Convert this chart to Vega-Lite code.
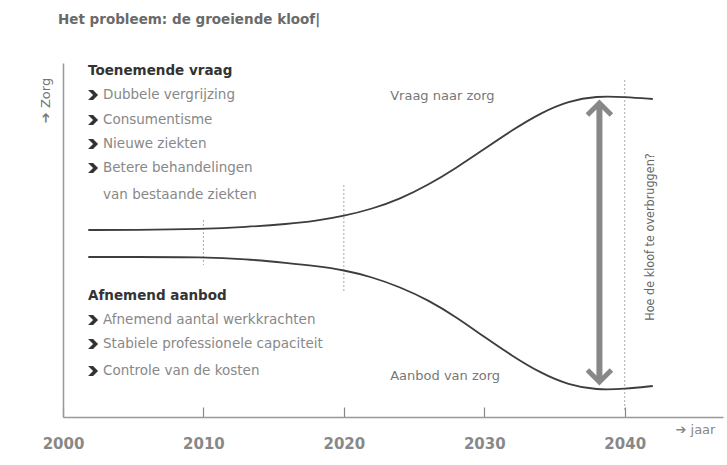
{
  "$schema": "https://vega.github.io/schema/vega-lite/v6.json",
  "width": 660,
  "height": 354,
  "autosize": {"type": "none"},
  "padding": {"left": 63, "top": 63, "right": 4, "bottom": 48},
  "background": "white",
  "title": {"text": "Het probleem: de groeiende kloof|", "anchor": "start", "frame": "group", "offset": 37, "dx": -5, "font": "DejaVu Sans", "fontSize": 13.5, "fontWeight": "bold", "color": "#6a6a6a"},
  "config": {"view": {"stroke": null}, "axis": {"grid": false}},
  "datasets": {
    "curves": [
      {"series": "Vraag", "year": 2001.8, "value": 187},
      {"series": "Vraag", "year": 2005, "value": 187},
      {"series": "Vraag", "year": 2010, "value": 188},
      {"series": "Vraag", "year": 2013, "value": 190},
      {"series": "Vraag", "year": 2016, "value": 193},
      {"series": "Vraag", "year": 2018, "value": 196},
      {"series": "Vraag", "year": 2020, "value": 201},
      {"series": "Vraag", "year": 2022, "value": 208},
      {"series": "Vraag", "year": 2024, "value": 218},
      {"series": "Vraag", "year": 2026, "value": 232},
      {"series": "Vraag", "year": 2028, "value": 249},
      {"series": "Vraag", "year": 2030, "value": 268},
      {"series": "Vraag", "year": 2032, "value": 287},
      {"series": "Vraag", "year": 2034, "value": 304},
      {"series": "Vraag", "year": 2036, "value": 316},
      {"series": "Vraag", "year": 2038, "value": 321},
      {"series": "Vraag", "year": 2040, "value": 320},
      {"series": "Vraag", "year": 2042, "value": 318},
      {"series": "Aanbod", "year": 2001.8, "value": 160},
      {"series": "Aanbod", "year": 2005, "value": 160},
      {"series": "Aanbod", "year": 2010, "value": 160},
      {"series": "Aanbod", "year": 2013, "value": 158},
      {"series": "Aanbod", "year": 2016, "value": 154},
      {"series": "Aanbod", "year": 2018, "value": 151},
      {"series": "Aanbod", "year": 2020, "value": 147},
      {"series": "Aanbod", "year": 2022, "value": 140},
      {"series": "Aanbod", "year": 2024, "value": 130},
      {"series": "Aanbod", "year": 2026, "value": 117},
      {"series": "Aanbod", "year": 2028, "value": 100},
      {"series": "Aanbod", "year": 2030, "value": 80},
      {"series": "Aanbod", "year": 2032, "value": 61},
      {"series": "Aanbod", "year": 2034, "value": 44},
      {"series": "Aanbod", "year": 2036, "value": 32},
      {"series": "Aanbod", "year": 2038, "value": 27},
      {"series": "Aanbod", "year": 2040, "value": 28},
      {"series": "Aanbod", "year": 2042, "value": 31}
    ],
    "guides": [
      {"year": 2010, "value": 197, "value2": 152},
      {"year": 2020, "value": 232, "value2": 124},
      {"year": 2040, "value": 337, "value2": 7}
    ],
    "gap": [{"year": 2038.2, "value": 314, "value2": 35}],
    "heads": [
      {"year": 2038.2, "value": 314, "dir": "up"},
      {"year": 2038.2, "value": 35, "dir": "down"}
    ],
    "headings": [
      {"label": "Toenemende vraag", "year": 2001.78, "value": 346},
      {"label": "Afnemend aanbod", "year": 2001.78, "value": 121}
    ],
    "bullets": [
      {"year": 2002.14, "value": 322},
      {"year": 2002.14, "value": 297},
      {"year": 2002.14, "value": 273},
      {"year": 2002.14, "value": 249},
      {"year": 2002.14, "value": 97},
      {"year": 2002.14, "value": 73},
      {"year": 2002.14, "value": 46}
    ],
    "items": [
      {"label": "Dubbele vergrijzing", "year": 2002.85, "value": 322},
      {"label": "Consumentisme", "year": 2002.85, "value": 297},
      {"label": "Nieuwe ziekten", "year": 2002.85, "value": 273},
      {"label": "Betere behandelingen", "year": 2002.85, "value": 249},
      {"label": "van bestaande ziekten", "year": 2002.85, "value": 222},
      {"label": "Afnemend aantal werkkrachten", "year": 2002.85, "value": 97},
      {"label": "Stabiele professionele capaciteit", "year": 2002.85, "value": 73},
      {"label": "Controle van de kosten", "year": 2002.85, "value": 46}
    ],
    "curvelabels": [
      {"label": "Vraag naar zorg", "year": 2023.3, "value": 321},
      {"label": "Aanbod van zorg", "year": 2023.3, "value": 41}
    ],
    "note": [{"label": "Hoe de kloof te overbruggen?", "year": 2041.8, "value": 180}]
  },
  "encoding": {
    "x": {
      "field": "year", "type": "quantitative",
      "scale": {"domain": [2000, 2047], "nice": false, "zero": false},
      "axis": {
        "values": [2000, 2010, 2020, 2030, 2040], "format": "d",
        "domainColor": "#999", "domainWidth": 1.5,
        "tickColor": "#888", "tickSize": -10, "tickWidth": 1.2,
        "labelFont": "DejaVu Sans", "labelFontSize": 15, "labelFontWeight": "bold", "labelColor": "#888",
        "labelPadding": 29, "labelFlush": false, "labelOverlap": false,
        "title": "➔ jaar", "titleX": 612, "titleY": 12, "titleAlign": "left", "titleBaseline": "middle",
        "titleFont": "DejaVu Sans", "titleFontSize": 13, "titleFontWeight": "normal", "titleColor": "#888"
      }
    },
    "y": {
      "field": "value", "type": "quantitative",
      "scale": {"domain": [0, 354], "nice": false, "zero": false},
      "axis": {
        "ticks": false, "labels": false, "domainColor": "#999", "domainWidth": 1.5,
        "title": "➔ Zorg", "titleX": -18, "titleY": 37, "titleAngle": 270, "titleAlign": "center", "titleBaseline": "middle",
        "titleFont": "DejaVu Sans", "titleFontSize": 13, "titleFontWeight": "normal", "titleColor": "#777"
      }
    }
  },
  "layer": [
    {
      "data": {"name": "guides"},
      "mark": {"type": "rule", "color": "#aaa", "strokeWidth": 1, "strokeDash": [2, 2]},
      "encoding": {"y2": {"field": "value2"}}
    },
    {
      "data": {"name": "curves"},
      "mark": {"type": "line", "interpolate": "basis", "color": "#3d3d3d", "strokeWidth": 1.8},
      "encoding": {"detail": {"field": "series"}}
    },
    {
      "data": {"name": "gap"},
      "mark": {"type": "rule", "color": "#888", "strokeWidth": 6},
      "encoding": {"y2": {"field": "value2"}}
    },
    {
      "data": {"name": "heads"},
      "mark": {"type": "point", "filled": false, "stroke": "#888", "strokeWidth": 5, "size": 576, "opacity": 1},
      "encoding": {
        "shape": {"field": "dir", "type": "nominal", "scale": {"domain": ["up", "down"], "range": ["M-1,1L0,0L1,1", "M-1,-1L0,0L1,-1"]}, "legend": null}
      }
    },
    {
      "data": {"name": "headings"},
      "mark": {"type": "text", "align": "left", "baseline": "middle", "font": "DejaVu Sans", "fontSize": 13.5, "fontWeight": "bold", "color": "#333"},
      "encoding": {"text": {"field": "label"}}
    },
    {
      "data": {"name": "bullets"},
      "mark": {"type": "point", "shape": "M-1,-1L0,-1L1,0L0,1L-1,1L0,0Z", "filled": true, "color": "#333", "size": 100, "opacity": 1}
    },
    {
      "data": {"name": "items"},
      "mark": {"type": "text", "align": "left", "baseline": "middle", "font": "DejaVu Sans", "fontSize": 13.5, "color": "#888"},
      "encoding": {"text": {"field": "label"}}
    },
    {
      "data": {"name": "curvelabels"},
      "mark": {"type": "text", "align": "left", "baseline": "middle", "font": "DejaVu Sans", "fontSize": 13, "color": "#777"},
      "encoding": {"text": {"field": "label"}}
    },
    {
      "data": {"name": "note"},
      "mark": {"type": "text", "angle": 270, "align": "center", "baseline": "middle", "font": "DejaVu Sans Condensed", "fontSize": 12.5, "color": "#666"},
      "encoding": {"text": {"field": "label"}}
    }
  ]
}
